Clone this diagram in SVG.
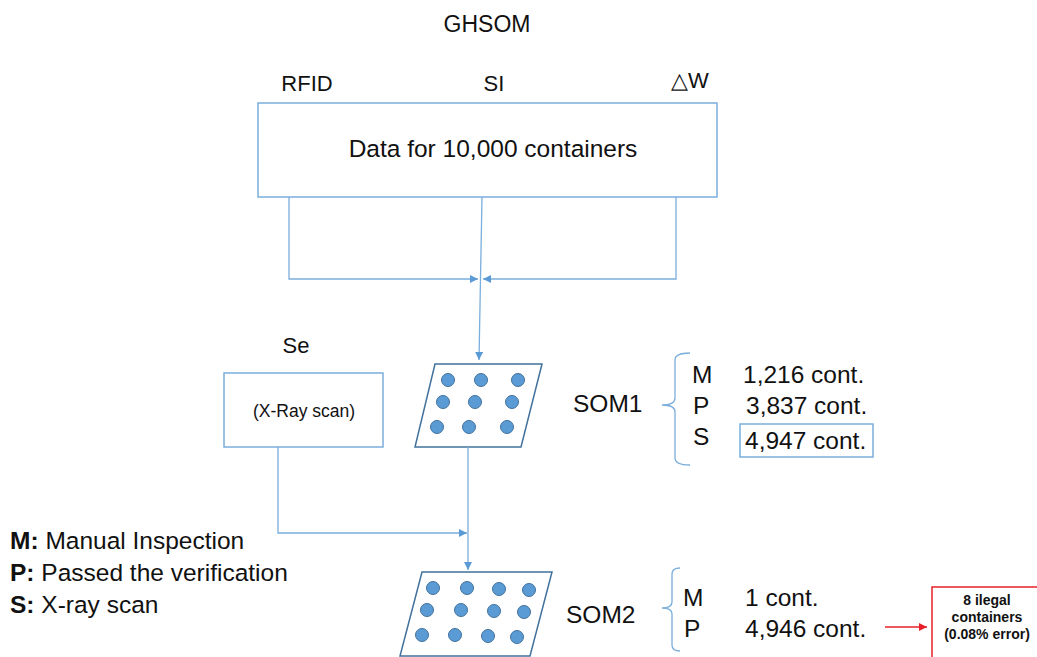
<svg xmlns="http://www.w3.org/2000/svg" width="1037" height="657" viewBox="0 0 1037 657">
<defs>
<style>
text{font-family:"Liberation Sans",Arial,sans-serif;fill:#111}
.t24{font-size:24.5px}
.t22{font-size:22px}
.leg{font-size:24.5px}
.box{fill:#fff;stroke:#7aaedc;stroke-width:1.5}
.para{fill:#fff;stroke:#41719c;stroke-width:1.5}
.dot{fill:#5b9bd5;stroke:#41719c;stroke-width:1}
.conn{fill:none;stroke:#7aaedc;stroke-width:1.3}
.brace{fill:none;stroke:#7aaedc;stroke-width:1.3}
.err{font-size:14px;font-weight:bold}
</style>
<marker id="ah" viewBox="0 0 10 10" refX="10" refY="5" markerWidth="8" markerHeight="8" markerUnits="userSpaceOnUse" orient="auto">
<path d="M0,0 L10,5 L0,10 z" fill="#5b9bd5"/>
</marker>
<marker id="rah" viewBox="0 0 10 10" refX="10" refY="5" markerWidth="8" markerHeight="8" markerUnits="userSpaceOnUse" orient="auto">
<path d="M0,0 L10,5 L0,10 z" fill="#e8202a"/>
</marker>
</defs>
<rect width="1037" height="657" fill="#fff"/>

<text x="487" y="32" font-size="23" text-anchor="middle">GHSOM</text>

<g id="data">
<text x="307" y="91" class="t22" text-anchor="middle">RFID</text>
<text x="494" y="91" class="t22" text-anchor="middle">SI</text>
<text x="690" y="88" class="t22" text-anchor="middle">△W</text>
<rect x="258" y="103" width="459" height="94" class="box"/>
<text x="493" y="157" class="t24" text-anchor="middle">Data for 10,000 containers</text>
</g>

<g id="se">
<text x="296" y="353" class="t22" text-anchor="middle">Se</text>
<rect x="224" y="373" width="159" height="74" class="box"/>
<text x="304" y="417" font-size="17.5" text-anchor="middle">(X-Ray scan)</text>
</g>

<g id="som1">
<polygon points="435,364 542,364 521,447 415,447" class="para"/>
<circle cx="448" cy="380" r="6.5" class="dot"/>
<circle cx="481" cy="380" r="6.5" class="dot"/>
<circle cx="518" cy="380" r="6.5" class="dot"/>
<circle cx="443" cy="402" r="6.5" class="dot"/>
<circle cx="475" cy="402" r="6.5" class="dot"/>
<circle cx="512" cy="402" r="6.5" class="dot"/>
<circle cx="437" cy="427" r="6.5" class="dot"/>
<circle cx="469" cy="427" r="6.5" class="dot"/>
<circle cx="507" cy="427" r="6.5" class="dot"/>
<text x="573" y="412" class="t24">SOM1</text>
</g>

<g id="som1-results">
<path d="M690,353 Q675,353 675,360 L675,398 Q675,405 662,405 Q675,405 675,412 L675,458 Q675,465 690,465" class="brace"/>
<text x="692" y="383" class="t24">M</text>
<text x="693" y="414" class="t24">P</text>
<text x="693" y="445" class="t24">S</text>
<text x="743" y="383" class="t24">1,216 cont.</text>
<text x="746" y="414" class="t24">3,837 cont.</text>
<rect x="740" y="424" width="133" height="33" class="box"/>
<text x="745" y="449" class="t24">4,947 cont.</text>
</g>

<g id="som2">
<polygon points="422,572 552,572 530,656 400,656" class="para"/>
<circle cx="433" cy="588" r="6.5" class="dot"/>
<circle cx="467" cy="588" r="6.5" class="dot"/>
<circle cx="499" cy="589" r="6.5" class="dot"/>
<circle cx="529" cy="590" r="6.5" class="dot"/>
<circle cx="427" cy="610" r="6.5" class="dot"/>
<circle cx="461" cy="610" r="6.5" class="dot"/>
<circle cx="494" cy="611" r="6.5" class="dot"/>
<circle cx="524" cy="612" r="6.5" class="dot"/>
<circle cx="422" cy="635" r="6.5" class="dot"/>
<circle cx="455" cy="635" r="6.5" class="dot"/>
<circle cx="488" cy="636" r="6.5" class="dot"/>
<circle cx="517" cy="637" r="6.5" class="dot"/>
<text x="566" y="623" class="t24">SOM2</text>
</g>

<g id="som2-results">
<path d="M680,568 Q672,568 672,574 L672,602 Q672,608 662,608 Q672,608 672,614 L672,645 Q672,651 680,651" class="brace"/>
<text x="683" y="606" class="t24">M</text>
<text x="684" y="637" class="t24">P</text>
<text x="745" y="606" class="t24">1 cont.</text>
<text x="745" y="637" class="t24">4,946 cont.</text>
</g>

<g id="error">
<rect x="932" y="587" width="110" height="80" fill="#fff" stroke="#e8202a" stroke-width="1.5"/>
<text x="987" y="605" class="err" text-anchor="middle">8 ilegal</text>
<text x="987" y="622" class="err" text-anchor="middle">containers</text>
<text x="987" y="639" class="err" text-anchor="middle">(0.08% error)</text>
</g>

<g id="legend">
<text x="10" y="549" class="leg"><tspan font-weight="bold">M:</tspan> Manual Inspection</text>
<text x="10" y="581" class="leg"><tspan font-weight="bold">P:</tspan> Passed the verification</text>
<text x="10" y="613" class="leg"><tspan font-weight="bold">S:</tspan> X-ray scan</text>
</g>

<g id="connectors">
<path d="M289,197 L289,279 L478,279" class="conn" marker-end="url(#ah)"/>
<path d="M676,197 L676,279 L483,279" class="conn" marker-end="url(#ah)"/>
<path d="M482,197 L479,360" class="conn" marker-end="url(#ah)"/>
<path d="M468,447 L468,570" class="conn" marker-end="url(#ah)"/>
<path d="M278,447 L278,533 L467,533" class="conn" marker-end="url(#ah)"/>
<path d="M885,627 L927,627" fill="none" stroke="#e8202a" stroke-width="1.3" marker-end="url(#rah)"/>
</g>
</svg>
